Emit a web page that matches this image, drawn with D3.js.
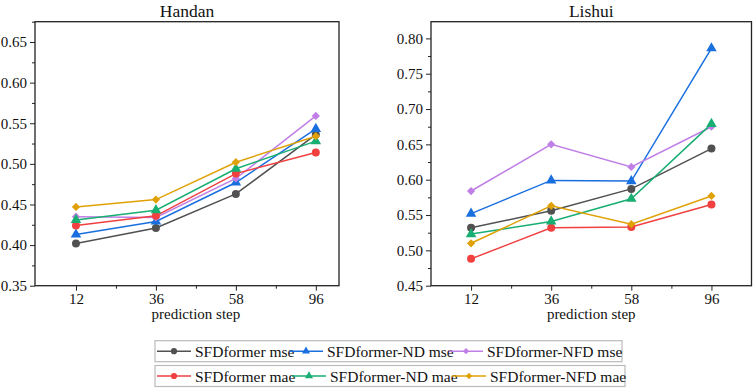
<!DOCTYPE html>
<html>
<head>
<meta charset="utf-8">
<script src="https://cdn.jsdelivr.net/npm/d3@7"></script>
<style>
  html, body { margin: 0; padding: 0; background: #fff; }
  svg { display: block; }
  text { font-family: "Liberation Serif", "Times New Roman", serif; fill: #111; }
</style>
</head>
<body>
<svg id="chart" width="754" height="388"></svg>
<script>
// ---- data ----
const steps = ["12", "36", "58", "96"];
const seriesNames = ["SFDformer mse", "SFDformer-ND mse", "SFDformer-NFD mse",
                     "SFDformer mae", "SFDformer-ND mae", "SFDformer-NFD mae"];
const seriesColors = ["#515151", "#1A6FDF", "#C07FE6", "#F14040", "#19AE72", "#E0A106"];
const seriesShapes = ["circle", "triangle", "diamond", "circle", "triangle", "diamond"];

const handanMse    = [0.402, 0.421, 0.463, 0.536];
const handanNdMse  = [0.413, 0.429, 0.477, 0.543];
const handanNfdMse = [0.435, 0.434, 0.482, 0.559];
const handanMae    = [0.424, 0.436, 0.488, 0.514];
const handanNdMae  = [0.431, 0.443, 0.494, 0.528];
const handanNfdMae = [0.447, 0.456, 0.502, 0.534];

const lishuiMse    = [0.532, 0.556, 0.587, 0.644];
const lishuiNdMse  = [0.552, 0.599, 0.598, 0.786];
const lishuiNfdMse = [0.584, 0.650, 0.618, 0.675];
const lishuiMae    = [0.488, 0.532, 0.533, 0.565];
const lishuiNdMae  = [0.523, 0.541, 0.573, 0.679];
const lishuiNfdMae = [0.510, 0.563, 0.537, 0.577];

const handanTicks = [0.35, 0.40, 0.45, 0.50, 0.55, 0.60, 0.65];
const lishuiTicks = [0.45, 0.50, 0.55, 0.60, 0.65, 0.70, 0.75, 0.80];

const panels = [
  { title: "Handan", x0: 35, x1: 339, y0: 21.7, y1: 285.7, xDom: [-0.5125, 3.29], yDom: [0.35, 0.675],
    ticks: handanTicks,
    series: [handanMse, handanNdMse, handanNfdMse, handanMae, handanNdMae, handanNfdMae] },
  { title: "Lishui", x0: 431, x1: 751.5, y0: 21.7, y1: 285.7, xDom: [-0.5, 3.5], yDom: [0.45, 0.8236],
    ticks: lishuiTicks,
    series: [lishuiMse, lishuiNdMse, lishuiNfdMse, lishuiMae, lishuiNdMae, lishuiNfdMae] }
];

const svg = d3.select("#chart");

function symbolPath(shape, size) {
  if (shape === "circle") return d3.symbol(d3.symbolCircle, size)();
  if (shape === "triangle") return d3.symbol(d3.symbolTriangle, size)();
  return d3.symbol(d3.symbolSquare, size)();
}
function symbolTransform(shape, x, y) {
  return shape === "diamond" ? `translate(${x},${y}) rotate(45)` : `translate(${x},${y})`;
}

panels.forEach(p => {
  const x = d3.scaleLinear().domain(p.xDom).range([p.x0, p.x1]);
  const y = d3.scaleLinear().domain(p.yDom).range([p.y1, p.y0]);
  const g = svg.append("g");

  // title
  g.append("text").attr("x", (p.x0 + p.x1) / 2).attr("y", 17)
    .attr("text-anchor", "middle").style("font-size", "17.5px").text(p.title);

  // y axis
  const yAxis = d3.axisLeft(y).tickValues(p.ticks).tickFormat(d3.format(".2f"))
    .tickSize(5).tickPadding(3);
  const ya = g.append("g").attr("transform", `translate(${p.x0},0)`).call(yAxis);
  ya.attr("font-family", null);
  ya.select(".domain").remove();
  ya.selectAll("text").style("font-size", "15px").attr("fill", "#111");
  ya.selectAll("line").attr("stroke", "#222").attr("stroke-width", 1);
  // minor y
  const minorY = d3.range(p.ticks[0] + 0.025, p.yDom[1], 0.05);
  g.append("g").attr("transform", `translate(${p.x0},0)`)
    .call(d3.axisLeft(y).tickValues(minorY).tickSize(3).tickFormat(""))
    .call(s => { s.select(".domain").remove(); s.selectAll("line").attr("stroke", "#222"); });

  // x axis
  const xAxis = d3.axisBottom(x).tickValues([0, 1, 2, 3]).tickFormat(i => steps[i])
    .tickSize(5).tickPadding(3);
  const xa = g.append("g").attr("transform", `translate(0,${p.y1})`).call(xAxis);
  xa.attr("font-family", null);
  xa.select(".domain").remove();
  xa.selectAll("text").style("font-size", "15px").attr("fill", "#111");
  xa.selectAll("line").attr("stroke", "#222");
  g.append("g").attr("transform", `translate(0,${p.y1})`)
    .call(d3.axisBottom(x).tickValues([0.5, 1.5, 2.5]).tickSize(3).tickFormat(""))
    .call(s => { s.select(".domain").remove(); s.selectAll("line").attr("stroke", "#222"); });

  // x label
  g.append("text").attr("x", (x(0) + x(3)) / 2).attr("y", 319)
    .attr("text-anchor", "middle").style("font-size", "15px").text("prediction step");

  // frame
  g.append("rect").attr("x", p.x0).attr("y", p.y0)
    .attr("width", p.x1 - p.x0).attr("height", p.y1 - p.y0)
    .attr("fill", "none").attr("stroke", "#222").attr("stroke-width", 1.3);

  // series
  const line = d3.line().x((d, i) => x(i)).y(d => y(d));
  p.series.forEach((vals, k) => {
    g.append("path").datum(vals).attr("d", line)
      .attr("fill", "none").attr("stroke", seriesColors[k]).attr("stroke-width", 1.5);
  });
  p.series.forEach((vals, k) => {
    const shape = seriesShapes[k];
    const size = shape === "circle" ? 50 : (shape === "triangle" ? 48 : 34);
    g.selectAll(null).data(vals).enter().append("path")
      .attr("d", symbolPath(shape, size))
      .attr("transform", (d, i) => symbolTransform(shape, x(i), y(d)))
      .attr("fill", seriesColors[k]);
  });
});

// legend
const legendRows = [
  { y0: 340.7, y1: 361.7, x1: 622, items: [0, 1, 2], lineX: [157, 289, 449] },
  { y0: 365.5, y1: 386.5, x1: 625, items: [3, 4, 5], lineX: [157, 292, 452] }
];
legendRows.forEach(r => {
  const g = svg.append("g");
  g.append("rect").attr("x", 155).attr("y", r.y0).attr("width", r.x1 - 155).attr("height", r.y1 - r.y0)
    .attr("fill", "#fff").attr("stroke", "#bbb").attr("stroke-width", 1.2);
  const cy = (r.y0 + r.y1) / 2;
  r.items.forEach((k, j) => {
    const lx = r.lineX[j];
    g.append("line").attr("x1", lx).attr("x2", lx + 34).attr("y1", cy).attr("y2", cy)
      .attr("stroke", seriesColors[k]).attr("stroke-width", 1.5);
    const shape = seriesShapes[k];
    const size = shape === "circle" ? 30 : (shape === "triangle" ? 28 : 20);
    g.append("path").attr("d", symbolPath(shape, size))
      .attr("transform", symbolTransform(shape, lx + 17, cy)).attr("fill", seriesColors[k]);
    g.append("text").attr("x", lx + 38).attr("y", cy + 5.5).style("font-size", "15.5px")
      .text(seriesNames[k]);
  });
});
</script>
</body>
</html>
